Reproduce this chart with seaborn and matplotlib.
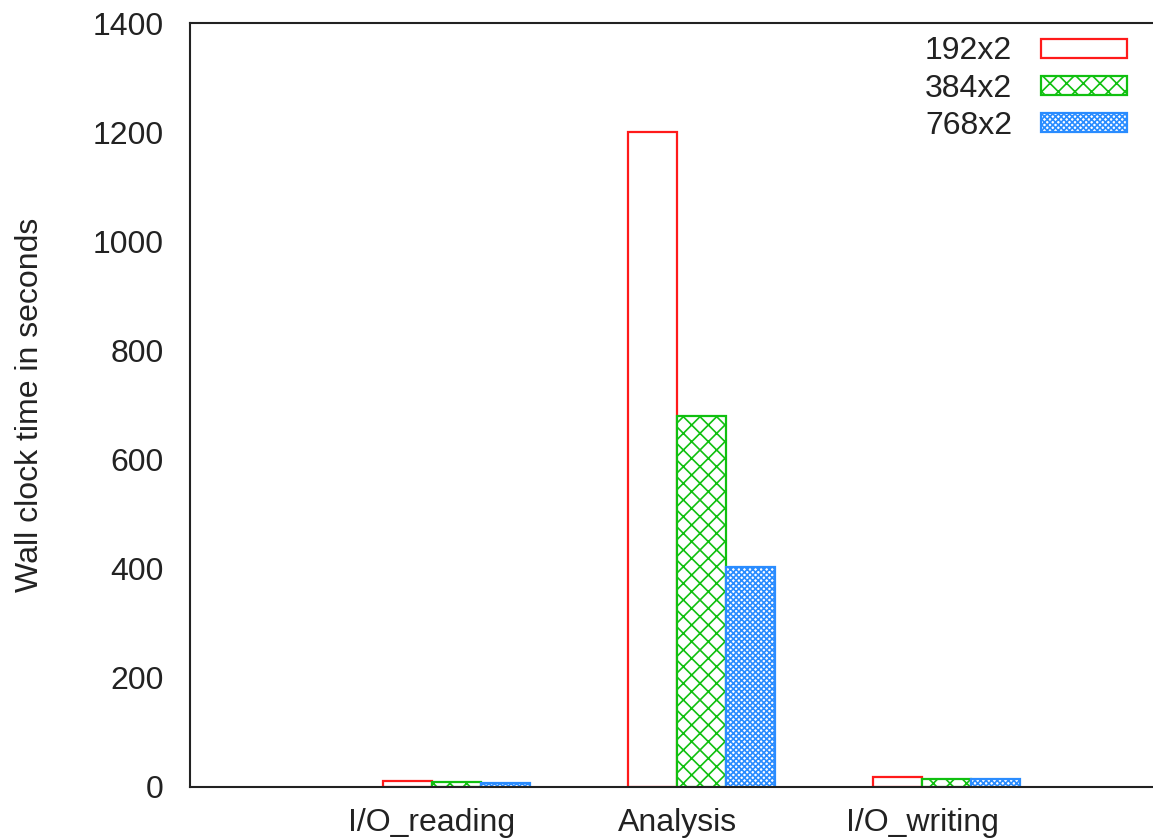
import matplotlib
matplotlib.use("Agg")
import matplotlib.pyplot as plt
import seaborn as sns
import pandas as pd
import numpy as np

stages = ["I/O_reading", "Analysis", "I/O_writing"]
configs = ["192x2", "384x2", "768x2"]
t_192 = [11, 1200, 18]
t_384 = [10, 680, 15]
t_768 = [7, 403, 14]
yticks = [0, 200, 400, 600, 800, 1000, 1200, 1400]

colors = ["#ff1a1a", "#10c010", "#2a8cff"]
hatches = ["", "xx", "xxxxxx"]

rows = []
for cfg, vals in zip(configs, [t_192, t_384, t_768]):
    for st, v in zip(stages, vals):
        rows.append({"stage": st, "config": cfg, "time": v})
df = pd.DataFrame(rows)

sns.set_theme(style="white")
plt.rcParams["font.family"] = ["Liberation Sans", "DejaVu Sans"]
plt.rcParams["hatch.linewidth"] = 1.2

FS = 23

fig = plt.figure(figsize=(11.53, 8.39), dpi=100)
ax = fig.add_axes([190/1153, 52/839, 1 - 190/1153, 764/839])

sns.barplot(data=df, x="stage", y="time", hue="config", order=stages,
            hue_order=configs, palette=colors, width=0.6, fill=False,
            linewidth=1.6, ax=ax, legend=True)

for cont, col, h in zip(ax.containers, colors, hatches):
    for p in cont.patches:
        p.set_facecolor("white")
        p.set_edgecolor(col)
        p.set_hatch(h)
        p.set_linewidth(1.6)

ax.set_ylim(0, 1400)
ax.set_yticks(yticks)
ax.set_xticks(np.arange(len(stages)) - 0.1)
ax.set_xticklabels(stages)
ax.set_xlim(-1.088, 2.843)
ax.tick_params(axis="both", length=0, labelsize=FS, colors="#222222")
ax.tick_params(axis="y", pad=19)
ax.tick_params(axis="x", pad=15)
ax.set_xlabel("")
ax.set_ylabel("Wall clock time in seconds", fontsize=FS, color="#222222", labelpad=34)

for s in ["left", "bottom", "top"]:
    ax.spines[s].set_visible(True)
    ax.spines[s].set_color("#222222")
    ax.spines[s].set_linewidth(1.5)
ax.spines["right"].set_visible(False)

handles = [cont.patches[0] for cont in ax.containers]
leg = ax.legend(handles=handles, labels=configs, loc="upper right",
                bbox_to_anchor=(1.003, 1.02), frameon=False, markerfirst=False,
                fontsize=FS, handlelength=2.7, handleheight=0.53,
                labelspacing=0.23, handletextpad=0.9)
for t in leg.get_texts():
    t.set_color("#222222")

fig.savefig("out.png", dpi=100)
